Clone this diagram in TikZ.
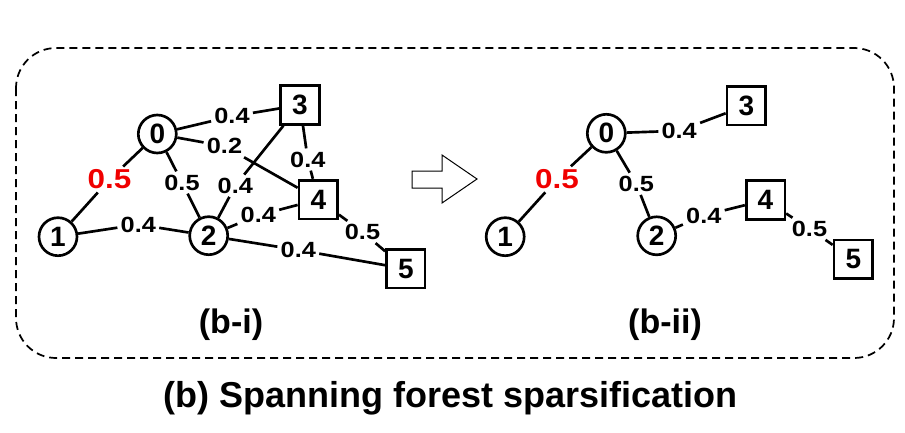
\documentclass[tikz,border=0pt]{standalone}
\usepackage{fontspec}
\setmainfont{Liberation Sans}
\newfontfamily\wgtfont[FakeStretch=1.15]{Liberation Sans}
\definecolor{wred}{RGB}{240,0,0}
\tikzset{every picture/.style={line width=2pt}}
\tikzset{
  vtx/.style={circle, draw, minimum size=28.5pt, inner sep=0pt, font=\bfseries\fontsize{21}{22}\selectfont},
  blk/.style={rectangle, draw, minimum size=29pt, inner sep=0pt, font=\bfseries\fontsize{21}{22}\selectfont},
  wgt/.style={inner sep=1.5pt, font=\wgtfont\bfseries\fontsize{16.5}{17}\selectfont},
  redwgt/.style={wgt, text=wred, font=\wgtfont\bfseries\fontsize{20.5}{21}\selectfont},
  captxt/.style={font=\bfseries\fontsize{27}{30}\selectfont},
  subtxt/.style={font=\bfseries\fontsize{25.5}{28}\selectfont},
}

\begin{document}
\begin{tikzpicture}[x=0.75pt,y=0.75pt,yscale=-1,xscale=1]
\useasboundingbox (0,0) rectangle (905,432);
%Rounded Rect
\draw [dash pattern={on 6pt off 3.75pt}, line width=1.3pt, rounded corners=30pt] (16,48) rectangle (894,358);
%Block Arrow
\draw [line width=0.75pt, line join=miter] (412,171) -- (442,171) -- (442,155) -- (477,179) -- (442,203) -- (442,188) -- (412,188) -- cycle;

%% (b-i) full graph
\node [vtx] (a0) at (157.3,134) {0};
\node [vtx] (a1) at (58,236.7) {1};
\node [vtx] (a2) at (208.7,235.7) {2};
\node [blk] (a3) at (300,105) {3};
\node [blk] (a4) at (318.3,199.5) {4};
\node [blk] (a5) at (405.8,268.8) {5};
% Weights
\node [wgt] (l03) at (232,116.3) {0.4};
\node [wgt] (l04) at (224.5,146.2) {0.2};
\node [wgt] (l34) at (307.8,159.5) {0.4};
\node [wgt] (l32) at (235.3,185.7) {0.4};
\node [redwgt] (l01) at (109.5,179.5) {0.5};
\node [wgt] (l02) at (182,182.5) {0.5};
\node [wgt] (l12) at (138.3,224.5) {0.4};
\node [wgt] (l24) at (258.3,215.3) {0.4};
\node [wgt] (l45) at (362.5,232) {0.5};
\node [wgt] (l25) at (298.3,250) {0.4};
%Straight Lines
\draw (a0) -- (l03) -- (a3);
\draw (a0) -- (l04) -- (a4);
\draw (a3) -- (l34) -- (a4);
\draw (a3) -- (l32) -- (a2);
\draw (a0) -- (l01) -- (a1);
\draw (a0) -- (l02) -- (a2);
\draw (a1) -- (l12) -- (a2);
\draw (a2) -- (l24) -- (a4);
\draw (a4) -- (l45) -- (a5);
\draw (a2) -- (l25) -- (a5);

%% (b-ii) spanning forest
\node [vtx] (b0) at (606.3,133.3) {0};
\node [vtx] (b1) at (505.2,236.7) {1};
\node [vtx] (b2) at (656.7,235.8) {2};
\node [blk] (b3) at (746.3,105.5) {3};
\node [blk] (b4) at (765.5,200) {4};
\node [blk] (b5) at (853.3,259.2) {5};
% Weights
\node [wgt] (m03) at (679.2,130.8) {0.4};
\node [redwgt] (m01) at (557,179.3) {0.5};
\node [wgt] (m02) at (636.3,183.8) {0.5};
\node [wgt] (m24) at (703.8,215.5) {0.4};
\node [wgt] (m45) at (809.5,228.8) {0.5};
%Straight Lines
\draw (b0) -- (m03) -- (b3);
\draw (b0) -- (m01) -- (b1);
\draw (b0) -- (m02) -- (b2);
\draw (b2) -- (m24) -- (b4);
\draw (b4) -- (m45) -- (b5);

% Text Node
\node [subtxt] (ti) at (231,325) {(b-i)};
% Text Node
\node [subtxt] (tii) at (665,325) {(b-ii)};
% Text Node
\node [captxt] (cap) at (450.5,398) {(b) Spanning forest sparsification};
\end{tikzpicture}
\end{document}
